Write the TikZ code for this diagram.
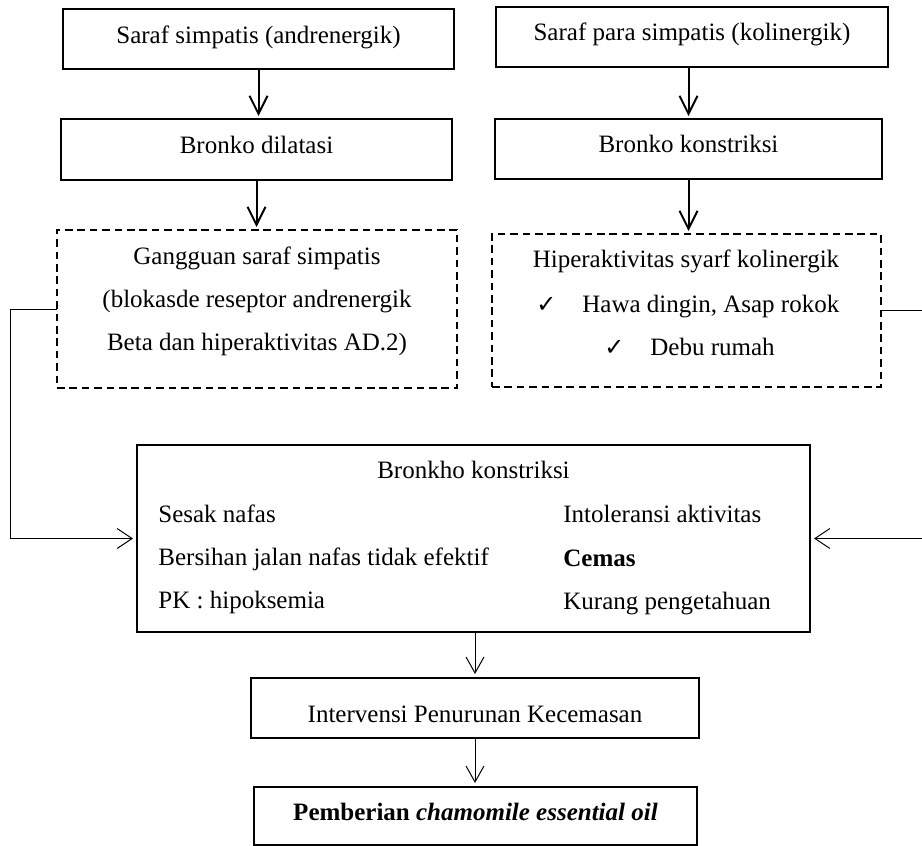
\documentclass[tikz,border=0pt]{standalone}
\usepackage{fontspec}
\setmainfont{Liberation Serif}
\newfontfamily\dejavu{DejaVu Sans}
\usetikzlibrary{arrows.meta}
\begin{document}
\begin{tikzpicture}[x=0.5pt,y=-0.5pt,
  font=\fontsize{12.5}{15}\selectfont,
  boxsolid/.style={draw,line width=1.1pt,inner sep=0pt,outer sep=0pt},
  boxdash/.style={draw,line width=1pt,dash pattern=on 3.8pt off 2.4pt,inner sep=0pt,outer sep=0pt},
  txt/.style={inner sep=0pt,anchor=base},
  txtw/.style={inner sep=0pt,anchor=base west},
  arrthick/.style={line width=1pt,-{Straight Barb[length=9pt,width=9pt]},shorten >=1.5pt},
  arrthin/.style={line width=0.5pt,-{Straight Barb[length=8pt,width=9pt]},shorten >=2pt},
  conn/.style={line width=0.5pt,-{Straight Barb[length=7.5pt,width=10pt]},shorten >=2pt},
  chk/.style={inner sep=0pt,anchor=base west,font=\dejavu\fontsize{12}{14}\selectfont}]
\useasboundingbox (0,0) rectangle (922,846);

% boxes
\node[boxsolid,minimum width=195.5pt,minimum height=30pt] (b1) at (258.5,39) {};
\node[boxsolid,minimum width=196pt,minimum height=30pt] (b2) at (692,37) {};
\node[boxsolid,minimum width=195.5pt,minimum height=30.5pt] (b3) at (256.5,149.5) {};
\node[boxsolid,minimum width=193.5pt,minimum height=30pt] (b4) at (688.5,149) {};
\node[boxdash,minimum width=200pt,minimum height=79pt] (d1) at (257,309) {};
\node[boxdash,minimum width=194.5pt,minimum height=76.5pt] (d2) at (686.5,310.5) {};
\node[boxsolid,line width=1pt,minimum width=336.5pt,minimum height=93.5pt] (big) at (473.5,538.5) {};
\node[boxsolid,line width=1pt,minimum width=224pt,minimum height=30pt] (iv) at (475,708) {};
\node[boxsolid,line width=1pt,minimum width=221.5pt,minimum height=29pt] (pb) at (475.5,816) {};

% texts
\node[txt] (t1) at (258.5,43) {Saraf simpatis (andrenergik)};
\node[txt] (t2) at (692,40) {Saraf para simpatis (kolinergik)};
\node[txt] (t3) at (256.5,153) {Bronko dilatasi};
\node[txt] (t4) at (688.5,152) {Bronko konstriksi};
\node[txt] (t5) at (257,264) {Gangguan saraf simpatis};
\node[txt] (t6) at (257,307) {(blokasde reseptor andrenergik};
\node[txt] (t7) at (257,350) {Beta dan hiperaktivitas AD.2)};
\node[txt] (t8) at (686,267) {Hiperaktivitas syarf kolinergik};
\node[chk] (c1) at (536,312) {✓};
\node[txtw] (t9) at (582,312) {Hawa dingin, Asap rokok};
\node[chk] (c2) at (604,355) {✓};
\node[txtw] (t10) at (650,355) {Debu rumah};
\node[txt] (t11) at (473.5,478) {Bronkho konstriksi};
\node[txtw] (t12) at (158,522) {Sesak nafas};
\node[txtw] (t13) at (158,565) {Bersihan jalan nafas tidak efektif};
\node[txtw] (t14) at (158,608) {PK : hipoksemia};
\node[txtw] (t15) at (563,522) {Intoleransi aktivitas};
\node[txtw] (t16) at (563,566) {\textbf{Cemas}};
\node[txtw] (t17) at (563,609) {Kurang pengetahuan};
\node[txt] (t18) at (475,722) {Intervensi Penurunan Kecemasan};
\node[txt] (t19) at (475.5,820) {\textbf{Pemberian \textit{chamomile essential oil}}};

% arrows
\draw[arrthick] (b1.south) -- (b1.south |- b3.north);
\draw[arrthick] (b3.south) -- (b3.south |- d1.north);
\draw[arrthick] (b2.south -| b4.south) -- (b4.north);
\draw[arrthick] (b4.south) -- (b4.south |- d2.north);

\coordinate (lc) at (10,309);
\coordinate (rc) at (940,310.5);
\draw[conn] (d1.west) -- (lc) |- (big.west);
\draw[conn] (d2.east) -- (rc) |- (big.east);

\draw[arrthin] (big.south -| iv.north) -- (iv.north);
\draw[arrthin] (iv.south) -- (pb.north -| iv.south);
\end{tikzpicture}
\end{document}
